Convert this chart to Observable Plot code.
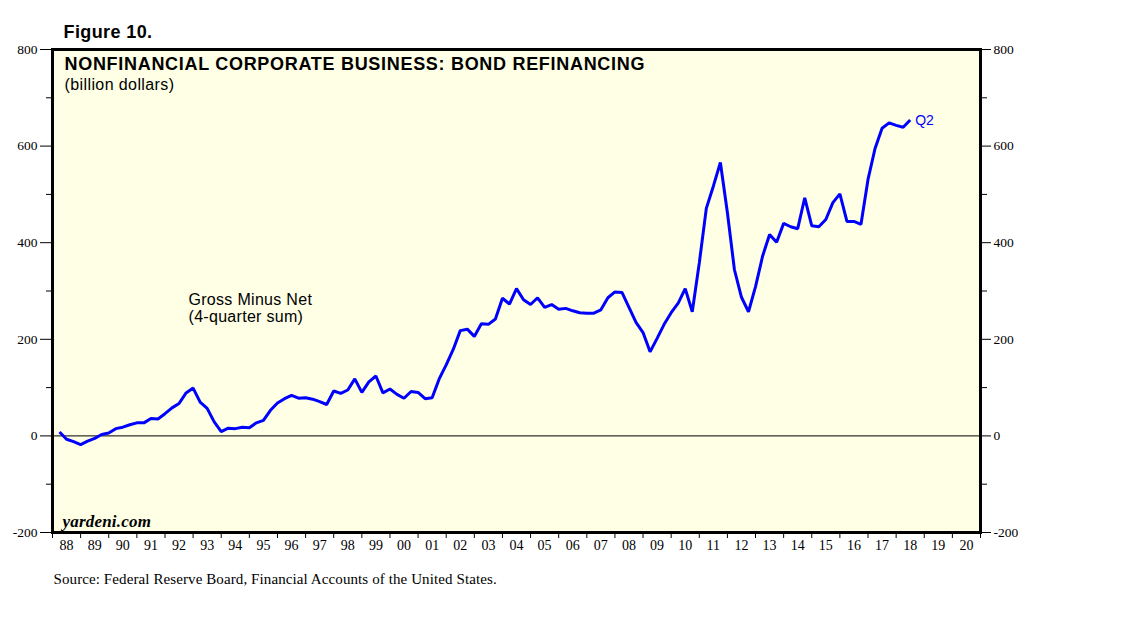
<!DOCTYPE html>
<html>
<head>
<meta charset="utf-8">
<script src="https://cdn.jsdelivr.net/npm/d3@7"></script>
<script src="https://cdn.jsdelivr.net/npm/@observablehq/plot@0.6"></script>
<style>
  body { margin: 0; background: #ffffff; }
  #chart svg { display: block; }
</style>
</head>
<body>
<div id="chart"></div>
<script>
// Quarterly series, 1988Q1 .. 2018Q2 (billion dollars, 4-quarter sum)
const firstYear = 1988;
const values = [
  8, -7, -12, -18, -11, -5, 3, 6, 15, 18, 23, 27, 27, 36, 35, 46,
  58, 67, 89, 99, 70, 57, 29, 9, 16, 15, 18, 17, 27, 32, 53, 68,
  77, 84, 78, 79, 76, 71, 65, 93, 88, 95, 118, 90, 112, 124, 89, 97,
  86, 78, 92, 90, 77, 79, 118, 147, 179, 218, 221, 206, 232, 231, 242, 285,
  273, 305, 282, 272, 286, 266, 272, 262, 264, 259, 255, 254, 254, 261, 286, 298,
  297, 266, 235, 214, 174, 202, 231, 255, 275, 305, 257, 358, 471, 517, 566, 462,
  344, 287, 257, 309, 372, 417, 401, 440, 433, 429, 493, 435, 433, 448, 483, 501,
  444, 444, 438, 531, 595, 637, 648, 643, 639, 654
];
const yearTicks = d3.range(1988, 2022);
const yearLabels = ["88","89","90","91","92","93","94","95","96","97","98","99","00","01","02","03","04","05","06","07","08","09","10","11","12","13","14","15","16","17","18","19","20"];
const yMajor = [-200, 0, 200, 400, 600, 800];
const yMinor = [-100, 100, 300, 500, 700];

const titleText = "NONFINANCIAL CORPORATE BUSINESS: BOND REFINANCING";
const unitText = "(billion dollars)";
const figureText = "Figure 10.";
const seriesLine1 = "Gross Minus Net";
const seriesLine2 = "(4-quarter sum)";
const lastLabel = "Q2";
const sourceText = "Source: Federal Reserve Board, Financial Accounts of the United States.";
const brandText = "yardeni.com";

// quarter-end positions
const data = values.map((v, i) => ({ t: firstYear + (i + 1) / 4, v }));
const last = data[data.length - 1];

const serif = "Liberation Serif, Times New Roman, serif";
const sans = "Liberation Sans, Arial, Helvetica, sans-serif";

const label = (txt, opts) => Plot.text([txt], { text: d => d, textAnchor: "start", lineAnchor: "middle", fill: "#000", ...opts });

const chart = Plot.plot({
  width: 1138,
  height: 621,
  marginLeft: 52,
  marginRight: 158,
  marginTop: 49,
  marginBottom: 89,
  style: { fontFamily: serif, fontSize: "13px", color: "#000", background: "transparent", overflow: "visible" },
  x: { domain: [1988, 2021], axis: null },
  y: { domain: [-200, 800], axis: null },
  marks: [
    Plot.frame({ fill: "#FFFFE6", stroke: null }),
    Plot.ruleY([0], { stroke: "#000", strokeWidth: 1 }),
    Plot.line(data, { x: "t", y: "v", stroke: "#0000FF", strokeWidth: 3, strokeLinejoin: "miter", strokeLinecap: "butt" }),
    Plot.frame({ stroke: "#000", strokeWidth: 3 }),
    // left axis
    Plot.axisY({ anchor: "left", label: null, ticks: yMajor, tickSize: 12, tickPadding: 3, tickFormat: d => String(d), fontFamily: serif, fontSize: 13.5, stroke: "#000" }),
    Plot.axisY({ anchor: "left", label: null, ticks: yMinor, tickSize: 6, tickFormat: () => "", stroke: "#000" }),
    // right axis
    Plot.axisY({ anchor: "right", label: null, ticks: yMajor, tickSize: 10, tickPadding: 3, tickFormat: d => String(d), fontFamily: serif, fontSize: 13.5, stroke: "#000" }),
    Plot.axisY({ anchor: "right", label: null, ticks: yMinor, tickSize: 6, tickFormat: () => "", stroke: "#000" }),
    // bottom ticks at year boundaries
    Plot.axisX({ anchor: "bottom", label: null, ticks: yearTicks, tickSize: 6, tickFormat: () => "", stroke: "#000" }),
    // year labels centered in each year
    Plot.text(yearLabels, { x: (d, i) => yearTicks[i] + 0.5, frameAnchor: "bottom", dy: 13, text: d => d, fontFamily: serif, fontSize: 14, fill: "#000", lineAnchor: "middle" }),
    // titles
    label(figureText, { frameAnchor: "top-left", dx: 11, dy: -17, fontFamily: sans, fontWeight: "bold", fontSize: 18 }),
    label(titleText, { frameAnchor: "top-left", dx: 12, dy: 15, fontFamily: sans, fontWeight: "bold", fontSize: 18 }),
    label(unitText, { frameAnchor: "top-left", dx: 12, dy: 35, fontFamily: sans, fontSize: 16 }),
    label(seriesLine1, { frameAnchor: "top-left", dx: 136, dy: 250, fontFamily: sans, fontSize: 16 }),
    label(seriesLine2, { frameAnchor: "top-left", dx: 136, dy: 267, fontFamily: sans, fontSize: 16 }),
    Plot.text([lastLabel], { x: () => last.t, y: () => last.v, dx: 5, text: d => d, textAnchor: "start", lineAnchor: "middle", fontFamily: sans, fontSize: 14, fill: "#0000FF" }),
    label(brandText, { frameAnchor: "bottom-left", dx: 10, dy: -11, fontFamily: serif, fontWeight: "bold", fontStyle: "italic", fontSize: 17 }),
    label(sourceText, { frameAnchor: "bottom-left", dx: 1, dy: 47, fontFamily: serif, fontSize: 15 })
  ]
});

document.getElementById("chart").appendChild(chart);

// fine-tune letter spacing to match the reference widths
const spacing = new Map([
  [titleText, "0.7px"],
  [figureText, "0.4px"],
  [unitText, "0.4px"],
  [seriesLine1, "0.3px"],
  [seriesLine2, "0.3px"],
  [sourceText, "0.1px"],
  [brandText, "0.2px"]
]);
d3.select(chart).selectAll("text").each(function () {
  const s = spacing.get(this.textContent);
  if (s) this.style.letterSpacing = s;
});
</script>
</body>
</html>
